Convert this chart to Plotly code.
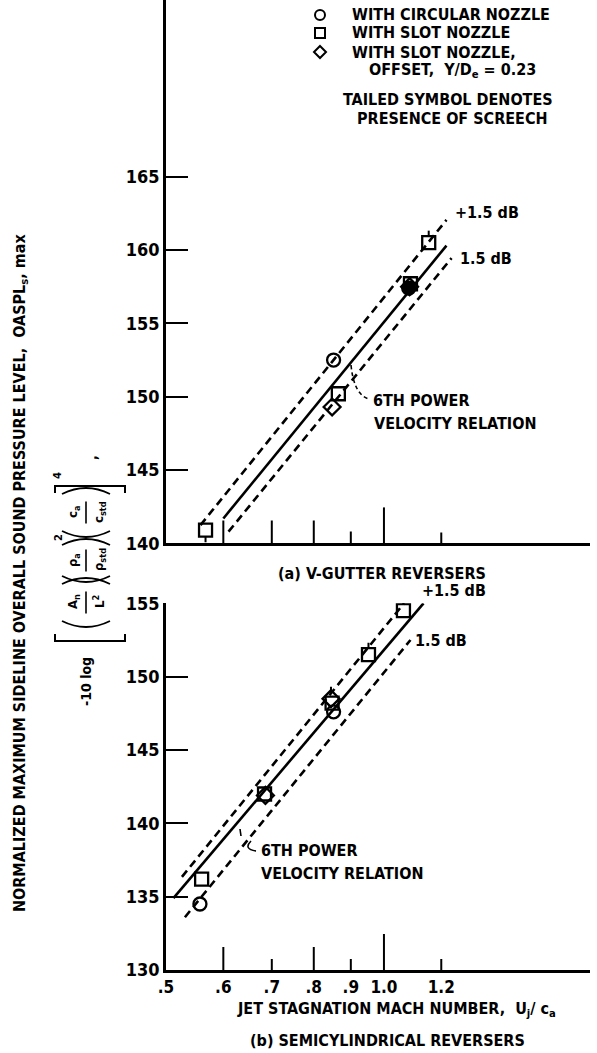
import numpy as np
import plotly.graph_objects as go

# ---------------- data ----------------
# (a) V-gutter reversers
a_circle_M = [0.852, 1.082]
a_circle_L = [152.5, 157.4]
a_square_M = [0.567, 0.865, 1.153, 1.088]
a_square_L = [140.9, 150.2, 160.5, 157.7]
a_diamond_M = [0.848, 1.085]
a_diamond_L = [149.3, 157.5]
a_tail_M = [0.567, 1.153]
a_tail_L = [140.9, 160.5]
a_tail_dir = [-1, 1]
a_solid_M = [0.600, 1.22]
a_solid_L = [141.7, 160.3]
a_upper_M = [0.558, 1.22]
a_upper_L = [141.25, 162.05]
a_lower_M = [0.610, 1.24]
a_lower_L = [140.8, 159.45]

# (b) semicylindrical reversers
b_circle_M = [0.557, 0.852]
b_circle_L = [134.5, 147.6]
b_square_M = [0.560, 0.684, 0.848, 0.952, 1.064]
b_square_L = [136.2, 142.0, 148.2, 151.5, 154.5]
b_diamond_M = [0.686, 0.845]
b_diamond_L = [141.9, 148.5]
b_tail_M = [1.064, 0.952, 0.845]
b_tail_L = [154.5, 151.5, 148.5]
b_tail_dir = [1, 1, 1]
b_solid_M = [0.512, 1.134]
b_solid_L = [134.9, 155.0]
b_upper_M = [0.526, 1.066]
b_upper_L = [136.35, 155.0]
b_lower_M = [0.531, 1.088]
b_lower_L = [133.6, 152.5]

# axis ticks
a_yticks = [140, 145, 150, 155, 160, 165]
b_yticks = [130, 135, 140, 145, 150, 155]
x_tickvals = [0.5, 0.6, 0.7, 0.8, 0.9, 1.0, 1.2]
x_ticktext = ['.5', '.6', '.7', '.8', '.9', '1.0', '1.2']
x_marks = [0.6, 0.7, 0.8, 0.9, 1.0, 1.2]

# ---------------- style ----------------
W, H = 597, 1053
ML, MR, MT, MB = 166, 7, 0, 83
PW, PH = W - ML - MR, H - MT - MB
FONT = "Liberation Sans Narrow, DejaVu Sans Condensed, DejaVu Sans, sans-serif"
PXU = 14.67  # pixels per dB
a_marklen = [23, 23, 23, 12, 36, 11]
b_marklen = [23, 11, 23, 11, 36, 11]
MSIZE = 13
a_circle_sym = ['circle-open', 'circle']   # the overlapped cluster prints as a solid blob


def pxx(x):
    return (x - ML) / PW


def pxy(y):
    return (H - MB - y) / PH


fig = go.Figure()


def add_points(xa, ya, M, L, sym):
    fig.add_trace(go.Scatter(x=M, y=L, mode='markers', xaxis=xa, yaxis=ya,
                             marker=dict(symbol=sym, size=MSIZE, color='black',
                                         line=dict(width=2.3, color='black')),
                             showlegend=False, hoverinfo='skip'))


def add_line(xa, ya, M, L, dash):
    fig.add_trace(go.Scatter(x=M, y=L, mode='lines', xaxis=xa, yaxis=ya,
                             line=dict(color='black', width=2.6, dash=dash),
                             showlegend=False, hoverinfo='skip'))


def add_marks(xa, ya, base, vals, lens):
    xs, ys = [], []
    for v, l in zip(vals, lens):
        xs += [v, v, None]
        ys += [base, base + l / PXU, None]
    fig.add_trace(go.Scatter(x=xs, y=ys, mode='lines', xaxis=xa, yaxis=ya,
                             line=dict(color='black', width=2),
                             showlegend=False, hoverinfo='skip'))


def add_tails(xa, ya, M, L, d):
    xs, ys = [], []
    for m, l, s in zip(M, L, d):
        xs += [m, m, None]
        ys += [l + s * 6 / PXU, l + s * 12 / PXU, None]
    fig.add_trace(go.Scatter(x=xs, y=ys, mode='lines', xaxis=xa, yaxis=ya,
                             line=dict(color='black', width=2),
                             showlegend=False, hoverinfo='skip'))


# panel (a)
add_line('x', 'y', a_solid_M, a_solid_L, 'solid')
add_line('x', 'y', a_upper_M, a_upper_L, '8px,5px')
add_line('x', 'y', a_lower_M, a_lower_L, '8px,5px')
add_points('x', 'y', a_circle_M, a_circle_L, a_circle_sym)
add_points('x', 'y', a_square_M, a_square_L, 'square-open')
add_points('x', 'y', a_diamond_M, a_diamond_L, 'diamond-open')
add_tails('x', 'y', a_tail_M, a_tail_L, a_tail_dir)
add_marks('x', 'y', 140, x_marks, a_marklen)

# panel (b)
add_line('x2', 'y2', b_solid_M, b_solid_L, 'solid')
add_line('x2', 'y2', b_upper_M, b_upper_L, '8px,5px')
add_line('x2', 'y2', b_lower_M, b_lower_L, '8px,5px')
add_points('x2', 'y2', b_circle_M, b_circle_L, 'circle-open')
add_points('x2', 'y2', b_square_M, b_square_L, 'square-open')
add_points('x2', 'y2', b_diamond_M, b_diamond_L, 'diamond-open')
add_tails('x2', 'y2', b_tail_M, b_tail_L, b_tail_dir)
add_marks('x2', 'y2', 130, x_marks, b_marklen)

xmax = 0.5 * 10 ** ((W - MR - ML) / 724.0)
tickfont = dict(family=FONT, size=18, color='black', weight='bold')
common_x = dict(type='log', range=[np.log10(0.5), np.log10(xmax)], showline=True,
                linewidth=2.6, linecolor='black', showgrid=False, zeroline=False,
                mirror=False, automargin=False)
common_y = dict(showline=True, linewidth=2.6, linecolor='black', showgrid=False,
                zeroline=False, ticks='inside', ticklen=22, tickwidth=2,
                tickcolor='black', tickfont=tickfont, automargin=False)

fig.update_layout(
    template='none',
    width=W, height=H, margin=dict(l=ML, r=MR, t=MT, b=MB, pad=0, autoexpand=False),
    paper_bgcolor='white', plot_bgcolor='white', showlegend=False,
    font=dict(family=FONT, color='black'),
    xaxis=dict(common_x, anchor='y', domain=[0, 1], ticks='', showticklabels=False),
    yaxis=dict(common_y, anchor='x', domain=[pxy(543.4), 1],
               range=[140, 140 + 543.4 / PXU], tickvals=a_yticks),
    xaxis2=dict(common_x, anchor='y2', domain=[0, 1], ticks='',
                tickvals=x_tickvals, ticktext=x_ticktext,
                tickfont=dict(tickfont, size=17)),
    yaxis2=dict(common_y, anchor='x2', domain=[0, pxy(603.3)],
                range=[130, 155], tickvals=b_yticks),
)


def ann(text, x, y, size=16, xanchor='center', angle=0):
    return dict(text=text, x=pxx(x), y=pxy(y), xref='paper', yref='paper',
                xanchor=xanchor, yanchor='middle', showarrow=False,
                textangle=angle,
                font=dict(family=FONT, size=size, color='black', weight='bold'))


anns = [
    # legend block
    ann('WITH CIRCULAR NOZZLE', 350, 15, xanchor='left'),
    ann('WITH SLOT NOZZLE', 350, 33, xanchor='left'),
    ann('WITH SLOT NOZZLE,', 350, 52, xanchor='left'),
    ann('OFFSET,  Y/D<sub>e</sub> = 0.23', 367, 71, xanchor='left'),
    ann('TAILED SYMBOL DENOTES', 448, 100),
    ann('PRESENCE OF SCREECH', 452, 118),
    # panel (a)
    ann('+1.5 dB', 453, 212, xanchor='left'),
    ann('1.5 dB', 458, 258, xanchor='left'),
    ann('6TH POWER', 371, 400, xanchor='left'),
    ann('VELOCITY RELATION', 372, 423, xanchor='left'),
    ann('(a) V-GUTTER REVERSERS', 382, 573),
    # panel (b)
    ann('+1.5 dB', 420, 590, xanchor='left'),
    ann('1.5 dB', 413, 640, xanchor='left'),
    ann('6TH POWER', 259, 850, xanchor='left'),
    ann('VELOCITY RELATION', 259, 873, xanchor='left'),
    ann('JET STAGNATION MACH NUMBER,  U<sub>j</sub>/ c<sub>a</sub>', 396, 1009),
    ann('(b) SEMICYLINDRICAL REVERSERS', 387, 1040),
    # y titles
    ann('NORMALIZED MAXIMUM SIDELINE OVERALL SOUND PRESSURE LEVEL,  OASPL<sub>s</sub>, max',
        20, 573, size=16, angle=-90),
    ann('-10 log', 86, 682, size=14, angle=-90),
    ann('A<sub>n</sub>', 73, 602, size=13, angle=-90),
    ann('L<sup>2</sup>', 99, 602, size=13, angle=-90),
    ann('ρ<sub>a</sub>', 73, 560, size=13, angle=-90),
    ann('ρ<sub>std</sub>', 99, 560, size=13, angle=-90),
    ann('2', 58, 538, size=11, angle=-90),
    ann('c<sub>a</sub>', 73, 512, size=13, angle=-90),
    ann('c<sub>std</sub>', 99, 512, size=13, angle=-90),
    ann('4', 57, 475, size=11, angle=-90),
    ann(',', 92, 458, size=14, angle=-90),
]
fig.update_layout(annotations=anns)


def P(pts, close=False):
    s = ''
    for i, (x, y) in enumerate(pts):
        s += ('M' if i == 0 else 'L') + f'{pxx(x):.5f},{pxy(y):.5f} '
    return s + ('Z' if close else '')


shapes = []
ln = dict(color='black', width=2)
# legend symbols
shapes.append(dict(type='circle', xref='paper', yref='paper', x0=pxx(315), x1=pxx(325),
                   y0=pxy(20), y1=pxy(10), line=ln))
shapes.append(dict(type='rect', xref='paper', yref='paper', x0=pxx(315), x1=pxx(325),
                   y0=pxy(38), y1=pxy(28), line=ln))
shapes.append(dict(type='path', xref='paper', yref='paper',
                   path=P([(320, 46), (326, 52), (320, 58), (314, 52)], True), line=ln))
# leaders for "6TH POWER"
shapes.append(dict(type='path', xref='paper', yref='paper',
                   path=f'M{pxx(351)},{pxy(365)} Q{pxx(354)},{pxy(395)} {pxx(369)},{pxy(399)}',
                   line=dict(color='black', width=1.6, dash='4px,3px')))
shapes.append(dict(type='path', xref='paper', yref='paper',
                   path=P([(240, 829), (241, 836)]), line=dict(color='black', width=1.6)))
shapes.append(dict(type='path', xref='paper', yref='paper',
                   path=f'M{pxx(251)},{pxy(841)} Q{pxx(243)},{pxy(849)} {pxx(256)},{pxy(851)}',
                   line=dict(color='black', width=1.6)))
# brackets of the normalising factor
shapes.append(dict(type='path', xref='paper', yref='paper',
                   path=P([(55, 634), (55, 641), (125, 641), (125, 634)]), line=ln))
shapes.append(dict(type='path', xref='paper', yref='paper',
                   path=P([(55, 493), (55, 486), (125, 486), (125, 493)]), line=ln))


def paren(y0, opening):
    d = 6 if opening else -6
    return dict(type='path', xref='paper', yref='paper',
                path=f'M{pxx(62)},{pxy(y0 - d * 0.5)} Q{pxx(86)},{pxy(y0 + d * 1.5)} {pxx(110)},{pxy(y0 - d * 0.5)}',
                line=dict(color='black', width=1.8))


for yo, yc in [(624, 581), (579, 542), (534, 491)]:
    shapes.append(paren(yo, True))
    shapes.append(paren(yc, False))
    ym = (yo + yc) / 2
    shapes.append(dict(type='path', xref='paper', yref='paper',
                       path=P([(86, ym - 11), (86, ym + 11)]), line=dict(color='black', width=1.6)))

fig.update_layout(shapes=shapes)
fig.write_html('out.html')
